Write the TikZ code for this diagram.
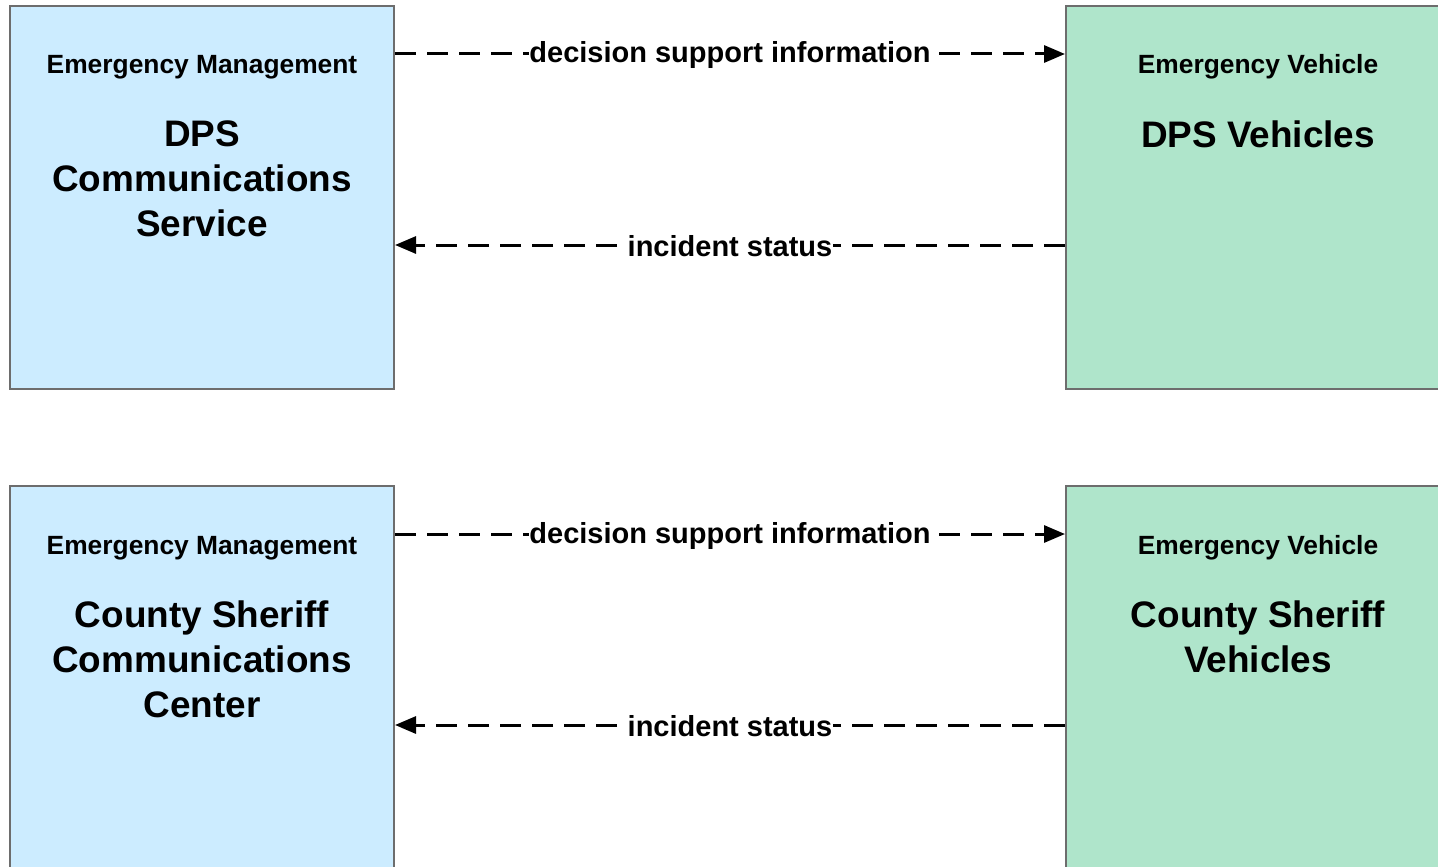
\documentclass[tikz,border=0pt]{standalone}
\usepackage{fontspec}
\setmainfont{Liberation Sans}
\usetikzlibrary{positioning,arrows.meta}

\definecolor{emfill}{HTML}{CCECFF}
\definecolor{evfill}{HTML}{AFE5CB}
\definecolor{boxline}{HTML}{6D6D6D}

\tikzset{
  sysbox/.style={draw=boxline, line width=0.04cm, minimum width=7.68cm, minimum height=7.66cm, inner sep=0pt},
  embox/.style={sysbox, fill=emfill},
  evbox/.style={sysbox, fill=evfill},
  roletext/.style={font=\fontsize{15}{18}\selectfont\bfseries, inner sep=0pt, anchor=base},
  nametext/.style={font=\fontsize{21}{25.5}\selectfont\bfseries, align=center, inner sep=0pt, anchor=north},
  flow/.style={line width=0.06cm, dash pattern=on 0.42cm off 0.22cm, -{Triangle[length=0.42cm,width=0.34cm]}},
  flowlabel/.style={fill=white, font=\fontsize{16.5}{20}\selectfont\bfseries, inner xsep=0.3pt, inner ysep=1pt, yshift=-0.03cm}
}

\begin{document}
\begin{tikzpicture}
    \useasboundingbox (0,0) rectangle (28.76,-17.32);
    \clip (0,0) rectangle (28.76,-17.32);

    % Emergency management centers
    \node[embox] (dpscomm) at (4.04,-3.95) {};
    \node[embox, below=1.90cm of dpscomm] (sheriffcomm) {};

    % Emergency vehicles
    \node[evbox, right=13.40cm of dpscomm] (dpsveh) {};
    \node[evbox, right=13.40cm of sheriffcomm] (sheriffveh) {};

    % Box texts
    \node[roletext] (dpscommrole) at ([yshift=-1.38cm]dpscomm.north) {Emergency Management};
    \node[nametext] (dpscommname) at ([yshift=-2.31cm]dpscomm.north) {DPS\\Communications\\Service};
    \node[roletext] (dpsvehrole) at ([yshift=-1.38cm]dpsveh.north) {Emergency Vehicle};
    \node[nametext] (dpsvehname) at ([yshift=-2.31cm]dpsveh.north) {DPS Vehicles};
    \node[roletext] (sheriffcommrole) at ([yshift=-1.38cm]sheriffcomm.north) {Emergency Management};
    \node[nametext] (sheriffcommname) at ([yshift=-2.31cm]sheriffcomm.north) {County Sheriff\\Communications\\Center};
    \node[roletext] (sheriffvehrole) at ([yshift=-1.38cm]sheriffveh.north) {Emergency Vehicle};
    \node[nametext] (sheriffvehname) at ([yshift=-2.31cm]sheriffveh.north) {County Sheriff\\Vehicles};

    % Flows
    \draw[flow] ([yshift=2.87cm]dpscomm.east) -- node[flowlabel] {decision support information} ([yshift=2.87cm]dpsveh.west);
    \draw[flow] ([yshift=-0.95cm]dpsveh.west) -- node[flowlabel] {incident status} ([yshift=-0.95cm]dpscomm.east);
    \draw[flow] ([yshift=2.87cm]sheriffcomm.east) -- node[flowlabel] {decision support information} ([yshift=2.87cm]sheriffveh.west);
    \draw[flow] ([yshift=-0.95cm]sheriffveh.west) -- node[flowlabel] {incident status} ([yshift=-0.95cm]sheriffcomm.east);
\end{tikzpicture}
\end{document}
